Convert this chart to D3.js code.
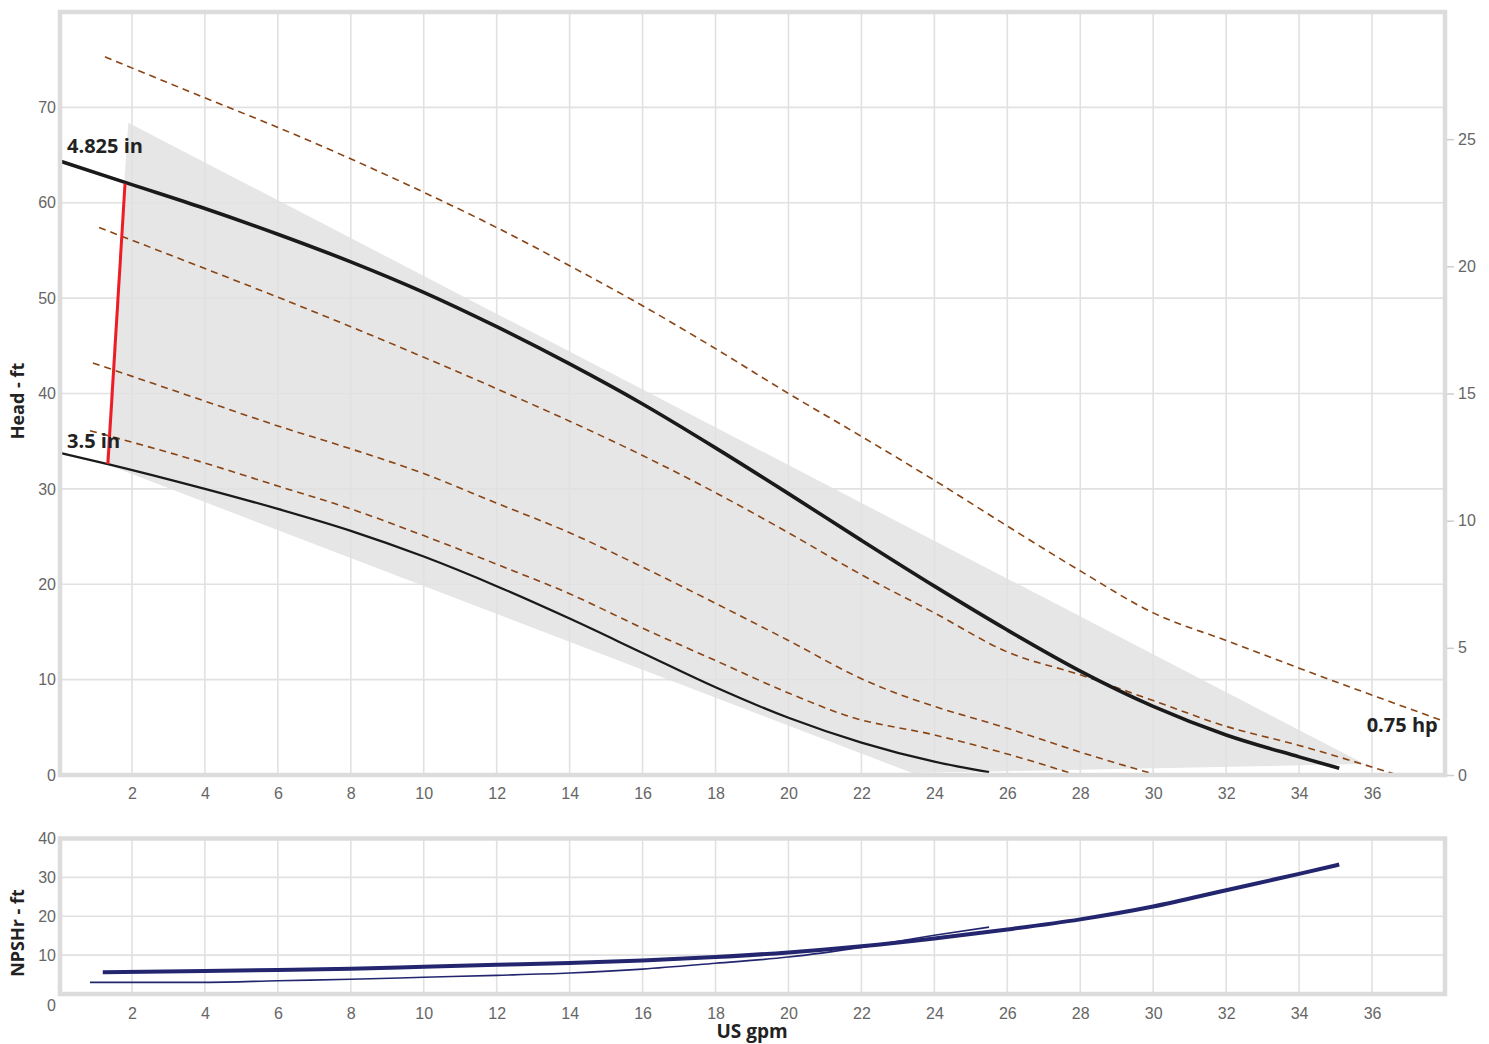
<!DOCTYPE html>
<html>
<head>
<meta charset="utf-8">
<script src="https://cdn.jsdelivr.net/npm/d3@7"></script>
<style>
  html, body { margin: 0; padding: 0; background: #fff; }
  svg { display: block; font-family: "Open Sans", "Noto Sans", sans-serif; }
  .tick text { fill: #666; font-size: 16px; }
</style>
</head>
<body>
<svg id="chart" width="1489" height="1044"></svg>
<script>
// ---------- tick labels ----------
const flowTicks = [2, 4, 6, 8, 10, 12, 14, 16, 18, 20, 22, 24, 26, 28, 30, 32, 34, 36];
const headTicks = [0, 10, 20, 30, 40, 50, 60, 70];
const powerTicks = [0, 5, 10, 15, 20, 25];
const npshTicks = [0, 10, 20, 30, 40];

// ---------- head curves (US gpm, ft) ----------
const impeller4825 = [[0, 64.4], [2, 61.9], [4, 59.4], [6, 56.7], [8, 53.8], [10, 50.6], [12, 47.0], [14, 43.1], [16, 38.9], [18, 34.3], [20, 29.5], [22, 24.6], [24, 19.8], [26, 15.2], [28, 10.9], [30, 7.2], [32, 4.2], [34, 1.9], [35.1, 0.7]];
const impeller35 = [[0, 33.8], [1.34, 32.6], [4, 30.0], [6, 27.9], [8, 25.6], [10, 22.9], [12, 19.8], [14, 16.4], [16, 12.8], [18, 9.2], [20, 6.0], [22, 3.4], [24, 1.4], [25.5, 0.3]];
const impellerLimit = [[1.81, 62.0], [1.34, 32.6]];
const operatingRegion = [[1.9, 68.4], [35.8, 1.15], [23.4, 0.2], [1.28, 32.6]];

// ---------- power curves (dashed) ----------
const power075 = [[1.26, 75.3], [4, 71.0], [6, 67.9], [10, 61.1], [12, 57.4], [14, 53.4], [16, 49.2], [18, 44.7], [20, 40.0], [22, 35.5], [24, 30.9], [26, 26.1], [28, 21.4], [30, 17.0], [32, 14.1], [34, 11.2], [38, 5.6]];
const powerB = [[1.1, 57.4], [4, 53.1], [6, 50.1], [8, 47.0], [10, 43.8], [12, 40.5], [14, 37.1], [16, 33.5], [18, 29.6], [20, 25.4], [22, 21.0], [24, 17.0], [26, 12.9], [28, 10.5], [30, 7.8], [32, 5.1], [34, 3.1], [36.7, 0]];
const powerC = [[0.93, 43.2], [4, 39.2], [6, 36.6], [8, 34.2], [10, 31.6], [12, 28.5], [14, 25.4], [16, 21.8], [18, 18.0], [20, 14.1], [22, 10.1], [22.8, 8.8], [24, 7.2], [26, 4.9], [28, 2.4], [30.1, 0]];
const powerD = [[0.85, 36.1], [4, 32.7], [6, 30.3], [8, 27.9], [10, 25.1], [12, 22.1], [14, 19.0], [16, 15.4], [18, 12.0], [20, 8.6], [21.7, 6.1], [24, 4.2], [26, 2.2], [27.9, 0]];

// ---------- NPSHr curves ----------
const npsh4825 = [[1.2, 5.6], [4, 5.9], [6, 6.2], [8, 6.5], [10, 7.0], [12, 7.5], [14, 8.0], [16, 8.6], [18, 9.5], [20, 10.7], [22, 12.3], [24, 14.3], [26, 16.6], [28, 19.2], [30, 22.5], [32, 26.7], [34, 30.9], [35.1, 33.3]];
const npsh35 = [[0.85, 3.0], [4, 3.0], [6, 3.4], [8, 3.8], [10, 4.3], [12, 4.8], [14, 5.4], [16, 6.4], [18, 7.9], [20, 9.5], [22, 12.0], [24, 15.1], [25.5, 17.2]];

// ---------- labels ----------
const curveLabels = [
  { text: "4.825 in", x: 0.22, y: 65.2, anchor: "start" },
  { text: "3.5 in", x: 0.22, y: 34.3, anchor: "start" },
  { text: "0.75 hp", x: 37.8, y: 4.5, anchor: "end" }
];

const svg = d3.select("#chart");
const L = 60, R = 1445;
const main = { top: 12, bottom: 775 };
const low = { top: 838.5, bottom: 994 };

const x = d3.scaleLinear().domain([0, 38]).range([59, 1445]);
const y = d3.scaleLinear().domain([0, 80]).range([775, 12]);
const yR = d3.scaleLinear().domain([0, 30]).range([775, 12]);
const y2 = d3.scaleLinear().domain([0, 40]).range([994, 838.5]);

const gridColor = "#e1e1e1";
const frameColor = "#dcdcdc";
const brown = "#8a4414";

// ===== MAIN CHART =====
const gMain = svg.append("g");

// operating region
gMain.append("path")
  .datum(operatingRegion)
  .attr("d", d3.line().x(d => x(d[0])).y(d => y(d[1])).curve(d3.curveLinearClosed))
  .attr("fill", "#e6e6e6");

// gridlines
gMain.selectAll("line.vg").data(flowTicks).join("line")
  .attr("x1", d => x(d)).attr("x2", d => x(d))
  .attr("y1", main.top).attr("y2", main.bottom)
  .attr("stroke", gridColor).attr("stroke-width", 1.6);
gMain.selectAll("line.hg").data(headTicks.filter(d => d > 0)).join("line")
  .attr("x1", L).attr("x2", R)
  .attr("y1", d => y(d)).attr("y2", d => y(d))
  .attr("stroke", gridColor).attr("stroke-width", 1.6);

// dashed power curves
const lineMain = d3.line().x(d => x(d[0])).y(d => y(d[1]));
[power075, powerB, powerC, powerD].forEach(p => {
  gMain.append("path").datum(p)
    .attr("d", lineMain.curve(d3.curveMonotoneX))
    .attr("fill", "none").attr("stroke", brown)
    .attr("stroke-width", 1.6).attr("stroke-dasharray", "7,5");
});

// head curves
gMain.append("path").datum(impeller35)
  .attr("d", lineMain.curve(d3.curveMonotoneX))
  .attr("fill", "none").attr("stroke", "#1a1a1a").attr("stroke-width", 2.2);
gMain.append("path").datum(impeller4825)
  .attr("d", lineMain.curve(d3.curveMonotoneX))
  .attr("fill", "none").attr("stroke", "#1a1a1a").attr("stroke-width", 3.6);
gMain.append("path").datum(impellerLimit)
  .attr("d", lineMain.curve(d3.curveLinear))
  .attr("fill", "none").attr("stroke", "#ee1c25").attr("stroke-width", 3);

// frame
gMain.append("rect")
  .attr("x", L).attr("y", main.top).attr("width", R - L).attr("height", main.bottom - main.top)
  .attr("fill", "none").attr("stroke", frameColor).attr("stroke-width", 4.5);

// curve labels
gMain.selectAll("text.cl").data(curveLabels).join("text")
  .attr("x", d => x(d.x)).attr("y", d => y(d.y))
  .attr("text-anchor", d => d.anchor)
  .attr("font-size", 20).attr("font-weight", "bold").attr("fill", "#222")
  .text(d => d.text);

// axes
const axL = gMain.append("g").attr("transform", `translate(${L - 2},0)`)
  .call(d3.axisLeft(y).tickValues(headTicks).tickSize(0).tickPadding(2));
axL.select(".domain").remove();

const axR = gMain.append("g").attr("transform", `translate(${R + 2},0)`)
  .call(d3.axisRight(yR).tickValues(powerTicks).tickSize(7).tickPadding(4));
axR.select(".domain").remove();
axR.selectAll(".tick line").attr("stroke", "#cfcfcf").attr("stroke-width", 1.5);

const axB = gMain.append("g").attr("transform", `translate(0,${main.bottom + 2})`)
  .call(d3.axisBottom(x).tickValues(flowTicks).tickSize(0).tickPadding(11));
axB.select(".domain").remove();

svg.append("text")
  .attr("transform", `translate(24,401) rotate(-90)`)
  .attr("text-anchor", "middle")
  .attr("font-size", 18).attr("font-weight", "bold").attr("fill", "#222")
  .text("Head - ft");

// ===== NPSH CHART =====
const gLow = svg.append("g");
gLow.selectAll("line.vg").data(flowTicks).join("line")
  .attr("x1", d => x(d)).attr("x2", d => x(d))
  .attr("y1", low.top).attr("y2", low.bottom)
  .attr("stroke", gridColor).attr("stroke-width", 1.6);
gLow.selectAll("line.hg").data(npshTicks.filter(d => d > 0 && d < 40)).join("line")
  .attr("x1", L).attr("x2", R)
  .attr("y1", d => y2(d)).attr("y2", d => y2(d))
  .attr("stroke", gridColor).attr("stroke-width", 1.6);

const lineLow = d3.line().x(d => x(d[0])).y(d => y2(d[1])).curve(d3.curveMonotoneX);
gLow.append("path").datum(npsh35).attr("d", lineLow)
  .attr("fill", "none").attr("stroke", "#23266e").attr("stroke-width", 1.6);
gLow.append("path").datum(npsh4825).attr("d", lineLow)
  .attr("fill", "none").attr("stroke", "#23266e").attr("stroke-width", 4);

gLow.append("rect")
  .attr("x", L).attr("y", low.top).attr("width", R - L).attr("height", low.bottom - low.top)
  .attr("fill", "none").attr("stroke", frameColor).attr("stroke-width", 4.5);

const axL2 = gLow.append("g").attr("transform", `translate(${L - 2},0)`)
  .call(d3.axisLeft(y2).tickValues(npshTicks).tickSize(0).tickPadding(2));
axL2.select(".domain").remove();
axL2.selectAll(".tick").filter(d => d === 0).select("text").attr("dy", "1.05em");

const axB2 = gLow.append("g").attr("transform", `translate(0,${low.bottom + 2})`)
  .call(d3.axisBottom(x).tickValues(flowTicks).tickSize(0).tickPadding(12));
axB2.select(".domain").remove();

svg.append("text")
  .attr("transform", `translate(24,933) rotate(-90)`)
  .attr("text-anchor", "middle")
  .attr("font-size", 18).attr("font-weight", "bold").attr("fill", "#222")
  .text("NPSHr - ft");

svg.append("text")
  .attr("x", 752).attr("y", 1038)
  .attr("text-anchor", "middle")
  .attr("font-size", 19).attr("font-weight", "bold").attr("fill", "#222")
  .text("US gpm");
</script>
</body>
</html>
